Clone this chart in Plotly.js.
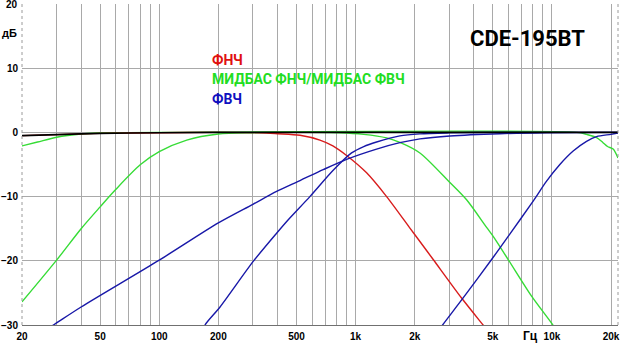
<!DOCTYPE html>
<html>
<head>
<meta charset="utf-8">
<script src="https://cdn.plot.ly/plotly-3.0.1.min.js"></script>
<style>html,body{margin:0;padding:0;background:#fff;}#chart{width:620px;height:343px;}</style>
</head>
<body>
<div id="chart"></div>
<script>
// ---- data ----
const tickFreqs = [20, 50, 100, 200, 500, 1000, 2000, 5000, 10000, 20000];
const tickLabels = ["20", "50", "100", "200", "500", "1k", "2k", "5k", "10k", "20k"];
const gridFreqs = [30, 40, 60, 70, 80, 90, 300, 400, 600, 700, 800, 900, 3000, 4000, 6000, 7000, 8000, 9000];
const dbTicks = [-30, -20, -10, 0, 10, 20];

const blackF = [20, 30, 50, 100, 200, 21700];
const blackY = [-0.5, -0.35, -0.15, -0.05, 0, 0];

const green1F = [20, 24, 30, 40, 50, 70, 100, 13400, 15000, 16900, 18200, 19200, 20500, 21700];
const green1Y = [-2.1, -1.5, -0.75, -0.25, -0.1, -0.03, 0, 0, -0.3, -0.8, -1.6, -2.2, -2.6, -4.0];

const green2F = [20, 30, 40, 50, 60, 80, 100, 138, 200, 300, 500, 832, 1100, 1439, 1681, 2126, 3022, 3675, 4647, 5021, 5986, 7874, 9955, 10500];
const green2Y = [-26.4, -19.9, -15.0, -11.6, -8.9, -5.05, -3.0, -1.2, -0.25, -0.05, 0, -0.05, -0.3, -0.85, -1.55, -3.2, -7.8, -10.5, -14.8, -16.2, -19.8, -25.5, -29.7, -30.8];

const redF = [20, 30, 50, 100, 200, 326, 400, 521, 658, 766, 900, 1138, 1439, 1891, 2126, 2485, 3466, 4434, 4800];
const redY = [-0.5, -0.35, -0.15, -0.05, 0, -0.05, -0.2, -0.45, -1.2, -2.1, -3.6, -6.3, -10, -14.9, -17, -19.8, -25.8, -29.9, -31.2];

const blue1F = [25, 28.9, 40, 100, 200, 300, 396, 521, 684, 900, 1279, 1681, 2126, 3022, 5431, 9400, 21700];
const blue1Y = [-31.2, -30, -27.2, -19.9, -14.1, -11.2, -9.2, -7.5, -5.8, -4.2, -2.6, -1.6, -1.0, -0.55, -0.2, -0.05, 0];

const blue2F = [160, 171, 204, 301, 396, 454, 585, 769, 954, 1100, 1279, 1681, 2126, 3000, 4500, 21700];
const blue2Y = [-32, -30, -27.2, -20.1, -15.7, -13.6, -10.0, -5.9, -3.2, -2.2, -1.5, -0.55, -0.23, -0.08, 0, 0];

const blue3F = [2600, 2774, 3507, 4928, 5986, 8024, 9390, 10974, 12827, 15004, 16876, 20000, 21700];
const blue3Y = [-31.2, -30, -25.9, -19.8, -16.2, -10.7, -7.6, -5.0, -2.9, -1.4, -0.65, -0.3, -0.1];

// ---- styling ----
const RED = '#d81c1c', GREEN = '#36dc36', BLUE = '#1818a8', BLACK = '#000000';
function tr(x, y, c, w) {
  return {x: x, y: y, type: 'scatter', mode: 'lines', hoverinfo: 'skip',
          line: {color: c, width: w || 1.4, shape: 'spline', smoothing: 0.8}};
}
const traces = [
  tr(green1F, green1Y, GREEN), tr(green2F, green2Y, GREEN),
  tr(redF, redY, RED),
  tr(blue1F, blue1Y, BLUE), tr(blue2F, blue2Y, BLUE), tr(blue3F, blue3Y, BLUE),
  tr(blackF, blackY, BLACK, 1.6)
];

// plot-area pixel helpers for annotation placement
const L = 22, R = 618, T = 4, B = 325;
const px = v => (v - L) / (R - L);
const py = v => (B - v) / (B - T);

const GRID = '#a9a9a9';
const TICKFONT = {family: 'Liberation Sans, Arial, sans-serif', size: 10, color: '#000', weight: 'bold'};
const yTop = dbTicks[dbTicks.length - 1];
const layout = {
  width: 620, height: 343,
  margin: {l: L, r: 620 - R, t: T, b: 343 - B},
  paper_bgcolor: '#ffffff', plot_bgcolor: '#ffffff',
  showlegend: false,
  xaxis: {
    type: 'log', range: [Math.log10(20), Math.log10(21700)],
    tickmode: 'array', tickvals: tickFreqs, ticktext: tickLabels,
    showgrid: true, gridcolor: GRID, gridwidth: 1,
    minor: {tickmode: 'array', tickvals: gridFreqs, showgrid: true, gridcolor: GRID, gridwidth: 1, ticks: ''},
    showline: true, linecolor: '#707070', linewidth: 1, mirror: false,
    ticks: '', zeroline: false, ticklabelstandoff: 2,
    tickfont: TICKFONT
  },
  yaxis: {
    range: [-30, 20], tickmode: 'array', tickvals: dbTicks.slice(0, -1),
    showgrid: true, gridcolor: GRID, gridwidth: 1,
    showline: false, ticks: '', zeroline: false, ticklabelstandoff: 3,
    tickfont: TICKFONT
  },
  shapes: [
    {type: 'line', xref: 'paper', yref: 'paper', x0: 0, x1: 0, y0: 0, y1: 1, line: {color: '#9a9a9a', width: 1, dash: 'dot'}},
    {type: 'line', xref: 'paper', yref: 'paper', x0: 1, x1: 1, y0: 0, y1: 1, line: {color: '#9a9a9a', width: 1, dash: 'dot'}}
  ],
  annotations: [
    {text: String(yTop), xref: 'paper', yref: 'y', x: px(19.5), y: yTop, xanchor: 'right', yanchor: 'middle', showarrow: false,
     font: TICKFONT},
    {text: 'дБ', xref: 'paper', yref: 'paper', x: px(9), y: py(33), xanchor: 'center', yanchor: 'middle', showarrow: false,
     font: {family: 'Liberation Sans, Arial, sans-serif', size: 11, color: '#000', weight: 'bold'}},
    {text: 'Гц', xref: 'paper', yref: 'paper', x: px(530), y: py(336), xanchor: 'center', yanchor: 'middle', showarrow: false,
     font: {family: 'Liberation Sans, Arial, sans-serif', size: 12, color: '#000', weight: 'bold'}},
    {text: 'CDE-195BT', xref: 'paper', yref: 'paper', x: px(527), y: py(38.5), xanchor: 'center', yanchor: 'middle', showarrow: false,
     font: {family: 'Roboto, sans-serif', size: 22, color: '#000', weight: 'bold'}},
    {text: 'ФНЧ', xref: 'paper', yref: 'paper', x: px(210), y: py(60), xanchor: 'left', yanchor: 'middle', showarrow: false,
     font: {family: 'Roboto, sans-serif', size: 14, color: '#e01010', weight: 'bold'}},
    {text: 'МИДБАС ФНЧ/МИДБАС ФВЧ', xref: 'paper', yref: 'paper', x: px(210), y: py(79.5), xanchor: 'left', yanchor: 'middle', showarrow: false,
     font: {family: 'Roboto, sans-serif', size: 14, color: '#22dd22', weight: 'bold'}},
    {text: 'ФВЧ', xref: 'paper', yref: 'paper', x: px(210), y: py(99.5), xanchor: 'left', yanchor: 'middle', showarrow: false,
     font: {family: 'Roboto, sans-serif', size: 14, color: '#1010c0', weight: 'bold'}}
  ]
};

Plotly.newPlot('chart', traces, layout, {staticPlot: true, displayModeBar: false});
</script>
</body>
</html>
